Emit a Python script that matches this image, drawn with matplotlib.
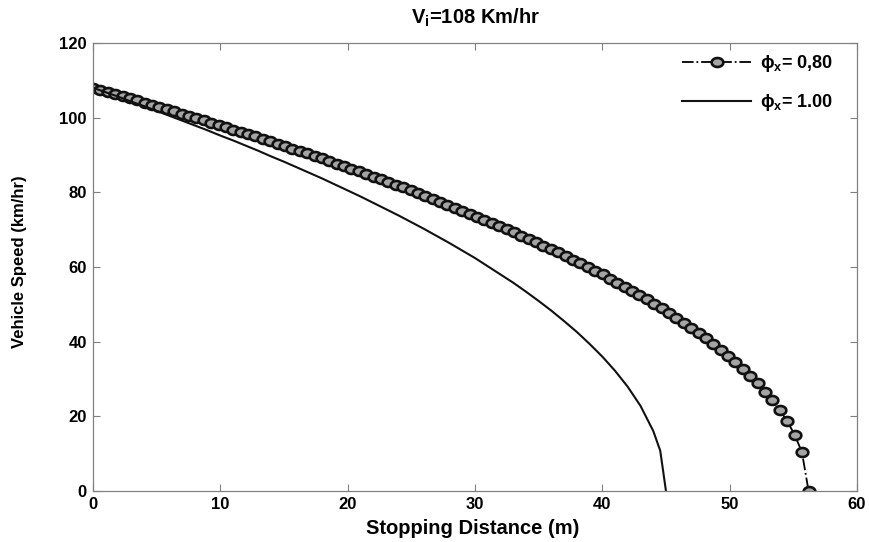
import matplotlib
matplotlib.use("Agg")
import matplotlib.pyplot as plt
import numpy as np
from matplotlib.path import Path

plt.rcParams['font.family'] = ['Liberation Sans', 'DejaVu Sans']
plt.rcParams['font.weight'] = 'bold'
plt.rcParams['mathtext.fontset'] = 'custom'
plt.rcParams['mathtext.bf'] = 'Liberation Sans:bold'
plt.rcParams['mathtext.rm'] = 'Liberation Sans:bold'

title = r"V$_\mathbf{i}$=108 Km/hr"
xlabel = "Stopping Distance (m)"
ylabel = "Vehicle Speed (km/hr)"
label_08 = "\u03d5" + r"$_\mathbf{x}$" + "= 0,80"
label_10 = "\u03d5" + r"$_\mathbf{x}$" + "= 1.00"

# phi_x = 0.80 (markers)
dist_08 = [0.00, 0.58, 1.16, 1.74, 2.32, 2.90, 3.48, 4.06, 4.64, 5.22,
           5.80, 6.38, 6.96, 7.54, 8.12, 8.70, 9.28, 9.86, 10.44, 11.02,
           11.60, 12.18, 12.76, 13.34, 13.92, 14.50, 15.08, 15.66, 16.24, 16.82,
           17.40, 17.98, 18.56, 19.14, 19.72, 20.30, 20.88, 21.46, 22.04, 22.62,
           23.20, 23.78, 24.36, 24.94, 25.52, 26.10, 26.68, 27.26, 27.84, 28.42,
           29.00, 29.58, 30.16, 30.74, 31.32, 31.90, 32.48, 33.06, 33.64, 34.22,
           34.80, 35.38, 35.96, 36.54, 37.12, 37.70, 38.28, 38.86, 39.44, 40.02,
           40.60, 41.18, 41.76, 42.34, 42.92, 43.50, 44.08, 44.66, 45.24, 45.82,
           46.40, 46.98, 47.56, 48.14, 48.72, 49.30, 49.88, 50.46, 51.04, 51.62,
           52.20, 52.78, 53.36, 53.94, 54.52, 55.10, 55.68, 56.20]
speed_08 = [108.0, 107.4, 106.9, 106.3, 105.7, 105.2, 104.6, 104.0, 103.4, 102.9,
            102.3, 101.7, 101.1, 100.5, 99.9, 99.3, 98.7, 98.1, 97.5, 96.8,
            96.2, 95.6, 95.0, 94.3, 93.7, 93.0, 92.4, 91.7, 91.1, 90.4,
            89.7, 89.1, 88.4, 87.7, 87.0, 86.3, 85.6, 84.9, 84.2, 83.5,
            82.8, 82.0, 81.3, 80.5, 79.8, 79.0, 78.3, 77.5, 76.7, 75.9,
            75.1, 74.3, 73.5, 72.7, 71.9, 71.0, 70.2, 69.3, 68.4, 67.5,
            66.6, 65.7, 64.8, 63.9, 62.9, 62.0, 61.0, 60.0, 59.0, 58.0,
            56.9, 55.8, 54.7, 53.6, 52.5, 51.3, 50.2, 48.9, 47.7, 46.4,
            45.1, 43.7, 42.3, 40.9, 39.4, 37.8, 36.2, 34.5, 32.7, 30.8,
            28.8, 26.6, 24.3, 21.7, 18.7, 15.1, 10.4, 0.0]

# phi_x = 1.00 (solid line)
dist_10 = [0, 1, 2, 3, 4, 5, 6, 7, 8, 9, 10, 11, 12, 13, 14, 15, 16, 17, 18, 19,
           20, 21, 22, 23, 24, 25, 26, 27, 28, 29, 30, 31, 32, 33, 34, 35, 36, 37,
           38, 39, 40, 41, 42, 43, 44, 44.55, 45.0]
speed_10 = [108.0, 106.8, 105.6, 104.3, 103.1, 101.8, 100.5, 99.2, 97.9, 96.6,
            95.2, 93.9, 92.5, 91.1, 89.6, 88.2, 86.7, 85.2, 83.7, 82.1,
            80.5, 78.9, 77.2, 75.5, 73.8, 72.0, 70.2, 68.3, 66.4, 64.4,
            62.4, 60.2, 58.0, 55.8, 53.4, 50.9, 48.3, 45.5, 42.6, 39.4,
            36.0, 32.2, 27.9, 22.8, 16.1, 10.8, 0.0]

xticks = [0, 10, 20, 30, 40, 50, 60]
yticks = [0, 20, 40, 60, 80, 100, 120]

# slightly wide circular marker (matches the reference's horizontal stretch)
_t = np.linspace(0, 2 * np.pi, 41)
ell = Path(np.column_stack([1.3 * np.cos(_t), np.sin(_t)]), closed=True)

fig = plt.figure(figsize=(8.7, 5.42), dpi=100)
ax = fig.add_axes([0.1069, 0.0941, 0.8781, 0.8266])

ax.plot(dist_08, speed_08, linestyle='-.', color='black', linewidth=1.3,
        marker=ell, markersize=8.4, markerfacecolor='#a4a4a4',
        markeredgecolor='#111111', markeredgewidth=1.9, label=label_08)
ax.plot(dist_10, speed_10, linestyle='-', color='#111111', linewidth=1.5,
        label=label_10)

ax.set_xlim(0, 60)
ax.set_ylim(0, 120)
ax.set_xticks(xticks)
ax.set_yticks(yticks)
ax.tick_params(direction='in', top=True, right=True, length=5, width=0.8,
               color='#808080', labelsize=12, pad=4.5)
for lab in ax.get_xticklabels() + ax.get_yticklabels():
    lab.set_fontweight('bold')
for sp in ax.spines.values():
    sp.set_color('#808080')
    sp.set_linewidth(0.9)

ax.set_xlabel(xlabel, fontsize=14.5, fontweight='bold')
ax.xaxis.set_label_coords(0.497, -0.062)
ax.set_ylabel(ylabel, fontsize=12, fontweight='bold')
ax.yaxis.set_label_coords(-0.0864, 0.512)
ax.text(0.5, 1.0435, title, transform=ax.transAxes, ha='center',
        va='baseline', fontsize=14.5, fontweight='bold')

leg = ax.legend(loc='upper right', bbox_to_anchor=(0.9686, 0.9777),
                frameon=False, fontsize=13, handlelength=3.8,
                handletextpad=0.5, labelspacing=1.0, borderpad=0,
                borderaxespad=0, numpoints=1)
for t in leg.get_texts():
    t.set_fontweight('bold')

fig.savefig('out.png', dpi=100)
